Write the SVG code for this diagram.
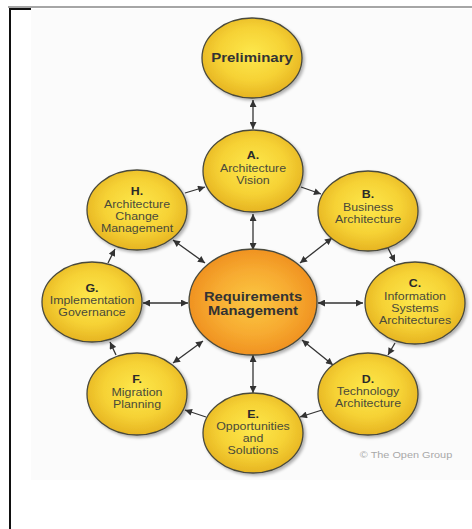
<svg xmlns="http://www.w3.org/2000/svg" width="472" height="529" viewBox="0 0 472 529">
<defs>
<radialGradient id="gy" cx="50%" cy="45%" r="55%">
<stop offset="0" stop-color="#fde84c"/>
<stop offset="0.6" stop-color="#f6d235"/>
<stop offset="1" stop-color="#e6b422"/>
</radialGradient>
<radialGradient id="go" cx="50%" cy="50%" r="55%">
<stop offset="0" stop-color="#fbc843"/>
<stop offset="0.55" stop-color="#f7ab31"/>
<stop offset="1" stop-color="#ee8c1d"/>
</radialGradient>
<filter id="sh" x="-20%" y="-20%" width="150%" height="150%">
<feDropShadow dx="2" dy="2" stdDeviation="1.5" flood-color="#000" flood-opacity="0.3"/>
</filter>
<marker id="ah" viewBox="0 0 10 10" refX="10" refY="5" markerWidth="8" markerHeight="7" markerUnits="userSpaceOnUse" orient="auto-start-reverse">
<path d="M0,0 L10,5 L0,10 z" fill="#333"/>
</marker>
<style>
.n{stroke:#4a4a3c;stroke-width:1.3;filter:url(#sh)}
.y{fill:url(#gy)}
.o{fill:url(#go)}
text{font-family:"Liberation Sans",Arial,sans-serif;text-anchor:middle}
.l{font-size:10.5px;font-weight:bold;fill:#2a2a2a}
.d{font-size:10.5px;fill:#4a4a3a}
.b{font-size:12.5px;font-weight:bold;fill:#333}
.r{font-size:12.5px;font-weight:bold;fill:#333}
.c line{stroke:#333;stroke-width:1.3}
.s{marker-end:url(#ah)}
.dd{marker-start:url(#ah);marker-end:url(#ah)}
</style>
</defs>
<rect x="0" y="0" width="472" height="529" fill="#fff"/>
<rect x="31" y="9" width="441" height="471" fill="#fbfbfb"/>
<line x1="8" y1="7" x2="472" y2="7" stroke="#888" stroke-width="1.5"/>
<line x1="10" y1="8" x2="10" y2="529" stroke="#111" stroke-width="2"/>
<line x1="9" y1="9" x2="31" y2="9" stroke="#111" stroke-width="2"/>

<g class="c" id="connectors">
<line class="dd" x1="253" y1="100" x2="253" y2="129"/>
<line class="s" x1="301" y1="187" x2="321" y2="194"/>
<line class="s" x1="388" y1="248" x2="395" y2="262"/>
<line class="s" x1="395" y1="343" x2="388" y2="355"/>
<line class="s" x1="322" y1="410" x2="300" y2="417"/>
<line class="s" x1="206" y1="417" x2="185" y2="410"/>
<line class="s" x1="116" y1="355" x2="110" y2="342"/>
<line class="s" x1="108" y1="263" x2="115" y2="249"/>
<line class="s" x1="185" y1="193" x2="205" y2="187"/>
<line class="dd" x1="253" y1="214" x2="253" y2="250"/>
<line class="dd" x1="332" y1="238" x2="300" y2="263"/>
<line class="dd" x1="363" y1="303" x2="318" y2="303"/>
<line class="dd" x1="333" y1="365" x2="302" y2="340"/>
<line class="dd" x1="253" y1="393" x2="253" y2="355"/>
<line class="dd" x1="173" y1="363" x2="203" y2="341"/>
<line class="dd" x1="143" y1="303" x2="188" y2="303"/>
<line class="dd" x1="173" y1="240" x2="205" y2="263"/>
</g>

<g id="preliminary">
<ellipse class="n y" cx="252" cy="58" rx="50" ry="40"/>
<g transform="matrix(1.2,0,0,1,252,0)"><text class="b" x="0" y="62">Preliminary</text></g>
</g>
<g id="a">
<ellipse class="n y" cx="253" cy="171" rx="50" ry="41"/>
<g transform="matrix(1.18,0,0,1,253,0)"><text class="l" x="0" y="159">A.</text><text class="d" x="0" y="172">Architecture</text><text class="d" x="0" y="184">Vision</text></g>
</g>
<g id="b">
<ellipse class="n y" cx="368" cy="211" rx="50" ry="40"/>
<g transform="matrix(1.18,0,0,1,368,0)"><text class="l" x="0" y="198">B.</text><text class="d" x="0" y="211">Business</text><text class="d" x="0" y="223">Architecture</text></g>
</g>
<g id="c">
<ellipse class="n y" cx="415" cy="303" rx="50" ry="41"/>
<g transform="matrix(1.18,0,0,1,415,0)"><text class="l" x="0" y="287">C.</text><text class="d" x="0" y="300">Information</text><text class="d" x="0" y="312">Systems</text><text class="d" x="0" y="324">Architectures</text></g>
</g>
<g id="d">
<ellipse class="n y" cx="368" cy="394" rx="50" ry="41"/>
<g transform="matrix(1.18,0,0,1,368,0)"><text class="l" x="0" y="383">D.</text><text class="d" x="0" y="395">Technology</text><text class="d" x="0" y="407">Architecture</text></g>
</g>
<g id="e">
<ellipse class="n y" cx="253" cy="433" rx="50" ry="40"/>
<g transform="matrix(1.18,0,0,1,253,0)"><text class="l" x="0" y="418">E.</text><text class="d" x="0" y="430">Opportunities</text><text class="d" x="0" y="442">and</text><text class="d" x="0" y="454">Solutions</text></g>
</g>
<g id="f">
<ellipse class="n y" cx="137" cy="394" rx="50" ry="41"/>
<g transform="matrix(1.18,0,0,1,137,0)"><text class="l" x="0" y="383">F.</text><text class="d" x="0" y="396">Migration</text><text class="d" x="0" y="408">Planning</text></g>
</g>
<g id="g">
<ellipse class="n y" cx="92" cy="302" rx="50" ry="40"/>
<g transform="matrix(1.18,0,0,1,92,0)"><text class="l" x="0" y="292">G.</text><text class="d" x="0" y="304">Implementation</text><text class="d" x="0" y="316">Governance</text></g>
</g>
<g id="h">
<ellipse class="n y" cx="137" cy="210" rx="50" ry="40"/>
<g transform="matrix(1.18,0,0,1,137,0)"><text class="l" x="0" y="195">H.</text><text class="d" x="0" y="208">Architecture</text><text class="d" x="0" y="220">Change</text><text class="d" x="0" y="232">Management</text></g>
</g>
<g id="req">
<ellipse class="n o" cx="253" cy="302" rx="64" ry="53"/>
<g transform="matrix(1.18,0,0,1,253,0)"><text class="r" x="0" y="301">Requirements</text><text class="r" x="0" y="315">Management</text></g>
</g>
<g id="copyright" transform="matrix(1.28,0,0,1,406,0)">
<text x="0" y="458" style="font-size:8.5px;fill:#a8a8a8">© The Open Group</text>
</g>
</svg>
